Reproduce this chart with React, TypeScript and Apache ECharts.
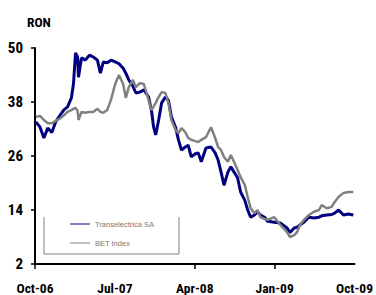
import React, { useEffect, useRef } from "react";
import * as echarts from "echarts";

const dates = [
  "2006-10-04", "2006-10-18", "2006-11-01", "2006-11-14", "2006-11-28", "2006-12-11", "2006-12-25",
  "2007-01-08", "2007-01-21", "2007-02-04", "2007-02-11", "2007-02-18", "2007-02-25", "2007-02-28",
  "2007-03-08", "2007-03-21", "2007-04-05", "2007-04-18", "2007-05-02", "2007-05-12", "2007-05-22",
  "2007-06-05", "2007-06-18", "2007-07-02", "2007-07-15", "2007-07-29", "2007-08-08", "2007-08-18",
  "2007-09-02", "2007-09-12", "2007-09-25", "2007-10-09", "2007-10-25", "2007-11-05", "2007-11-12",
  "2007-11-19", "2007-11-29", "2007-12-09", "2007-12-22", "2008-01-02", "2008-01-12", "2008-01-26",
  "2008-02-06", "2008-02-16", "2008-02-29", "2008-03-09", "2008-03-19", "2008-04-03", "2008-04-13",
  "2008-04-23", "2008-05-09", "2008-05-26", "2008-06-10", "2008-06-20", "2008-06-30", "2008-07-10",
  "2008-07-23", "2008-08-03", "2008-08-16", "2008-08-26", "2008-09-06", "2008-09-20", "2008-09-30",
  "2008-10-10", "2008-10-23", "2008-11-03", "2008-11-13", "2008-11-27", "2008-12-07", "2008-12-30",
  "2009-01-20", "2009-02-13", "2009-02-23", "2009-03-07", "2009-03-17", "2009-03-27", "2009-04-10",
  "2009-04-27", "2009-05-14", "2009-05-31", "2009-06-10", "2009-06-27", "2009-07-14", "2009-07-24",
  "2009-08-07", "2009-08-24", "2009-09-10", "2009-09-27",
];

const transelectrica = [
  33.6, 32.4, 30.0, 32.2, 31.2, 33.6, 35.0,
  36.2, 36.9, 38.9, 42.0, 48.9, 48.0, 43.5,
  47.8, 47.3, 48.4, 48.0, 47.3, 44.4, 46.9,
  46.7, 47.3, 46.9, 46.5, 45.5, 44.4, 42.9,
  41.5, 40.0, 40.2, 40.7, 39.1, 36.0, 32.4,
  30.7, 34.0, 37.8, 39.1, 38.4, 34.7, 32.4,
  29.6, 27.3, 28.0, 28.4, 25.8, 26.5, 26.7,
  24.7, 27.8, 28.0, 26.7, 25.1, 22.4, 19.5,
  22.4, 23.6, 22.2, 21.1, 18.0, 16.2, 14.0,
  12.4, 12.9, 13.6, 12.9, 12.4, 11.5, 11.3,
  11.1, 10.0, 9.0, 10.0, 10.2, 10.7, 11.3,
  12.4, 12.2, 12.4, 12.7, 12.9, 13.0, 13.3,
  14.0, 12.9, 13.1, 12.9,
];

const betIndex = [
  34.7, 34.9, 34.0, 33.3, 33.3, 33.8, 34.3,
  35.0, 35.8, 36.2, 36.5, 36.7, 36.0, 34.0,
  35.8, 35.6, 35.8, 35.8, 36.5, 35.8, 35.6,
  36.2, 38.5, 42.0, 44.0, 42.0, 38.9, 41.3,
  42.9, 41.3, 42.2, 42.0, 38.4, 36.2, 37.0,
  37.8, 39.1, 40.2, 40.0, 37.8, 34.0, 31.8,
  31.1, 32.2, 31.3, 30.0, 29.6, 29.3, 29.1,
  29.6, 30.2, 32.4, 30.0, 28.0, 27.3, 25.8,
  24.7, 26.2, 24.4, 22.9, 21.3, 19.6, 16.9,
  14.4, 13.3, 14.0, 12.4, 12.0, 11.8, 12.4,
  10.7, 9.1, 8.0, 8.4, 9.1, 10.7, 11.8,
  12.9, 13.6, 14.0, 15.1, 14.4, 14.7, 15.8,
  16.9, 17.8, 18.0, 18.0,
];

const xTickLabels = ["Oct-06", "Jul-07", "Apr-08", "Jan-09", "Oct-09"];
const yTicks = [2, 14, 26, 38, 50];
const seriesNames = ["Transelectrica SA", "BET Index"];
const unitLabel = "RON";

const FONT = '"Roboto Condensed", "DejaVu Sans Condensed", sans-serif';
const LEGEND_FONT = '"Liberation Sans", Arial, sans-serif';

function monthOffset(d: string): number {
  const [y, m, day] = d.split("-").map(Number);
  return (y - 2006) * 12 + (m - 10) + (day - 1) / 30;
}

export default function App() {
  const ref = useRef<HTMLDivElement>(null);
  useEffect(() => {
    if (!ref.current) return;
    const chart = echarts.init(ref.current, undefined, { renderer: "svg" });
    const xs = dates.map(monthOffset);
    chart.setOption({
      animation: false,
      backgroundColor: "#ffffff",
      grid: { left: 35, right: 18, top: 48, bottom: 31, containLabel: false },
      xAxis: {
        type: "value",
        min: 0,
        max: 36,
        interval: 9,
        axisLine: { show: true, lineStyle: { color: "#000", width: 2 } },
        axisTick: { show: true, length: 5, lineStyle: { color: "#000", width: 1.5 }, customValues: [0, 18, 27] },
        splitLine: { show: false },
        axisLabel: {
          margin: 17,
          fontFamily: FONT,
          fontWeight: "bold",
          fontSize: 13.5,
          color: "#000",
          hideOverlap: false,
          showMinLabel: true,
          showMaxLabel: true,
          formatter: (v: number) => xTickLabels[Math.round(v / 9)] ?? "",
        },
      },
      yAxis: {
        type: "value",
        min: 2,
        max: 50,
        axisLine: { show: true, lineStyle: { color: "#000", width: 2 } },
        axisTick: { show: true, length: 4, lineStyle: { color: "#000", width: 1.5 }, customValues: yTicks },
        splitLine: { show: false },
        axisLabel: {
          customValues: yTicks,
          margin: 12,
          fontFamily: FONT,
          fontWeight: "bold",
          fontSize: 15,
          color: "#000",
        },
      },
      legend: {
        orient: "vertical",
        left: 70,
        top: 219,
        icon: "rect",
        itemWidth: 20,
        itemHeight: 1,
        itemGap: 9,
        padding: 0,
        textStyle: { fontSize: 7.5, lineHeight: 10, color: "#777", fontFamily: LEGEND_FONT },
        data: seriesNames,
      },
      graphic: [
        {
          type: "polyline",
          shape: { points: [[44, 217], [44, 254], [179, 254], [179, 217]] },
          style: { fill: "none", stroke: "#808080", lineWidth: 1 },
          z: 1,
        },
        {
          type: "text",
          left: 27,
          top: 15,
          style: { text: unitLabel, font: `bold 13.5px ${FONT}`, fill: "#000" },
        },
      ],
      series: [
        {
          name: seriesNames[0],
          type: "line",
          symbol: "none",
          data: xs.map((x, i) => [x, transelectrica[i]]),
          lineStyle: { color: "#000080", width: 3 },
          itemStyle: { color: "#000080" },
          z: 2,
        },
        {
          name: seriesNames[1],
          type: "line",
          symbol: "none",
          data: xs.map((x, i) => [x, betIndex[i]]),
          lineStyle: { color: "#808080", width: 2.5 },
          itemStyle: { color: "#808080" },
          z: 3,
        },
      ],
    });
    return () => chart.dispose();
  }, []);
  return <div ref={ref} style={{ position: "fixed", left: 0, top: 0, width: 376, height: 295 }} />;
}
